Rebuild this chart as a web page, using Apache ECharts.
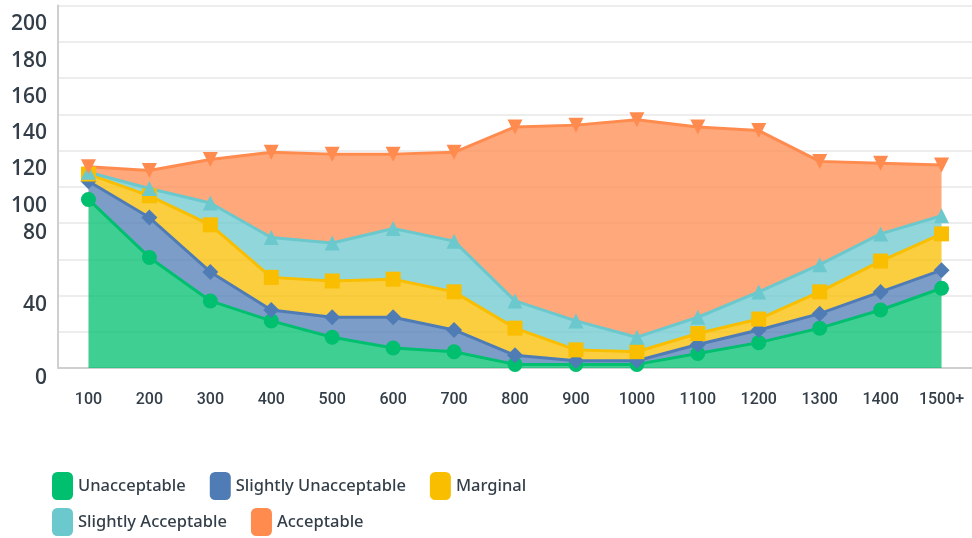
<!DOCTYPE html>
<html>
<head>
<meta charset="utf-8">
<title>Price acceptability</title>
<script src="https://cdn.jsdelivr.net/npm/echarts@6/dist/echarts.min.js"></script>
<style>
  html, body { margin: 0; padding: 0; background: #fff; }
  #main { width: 972px; height: 538px; }
</style>
</head>
<body>
<div id="main"></div>
<script>
var priceLevels = ['100', '200', '300', '400', '500', '600', '700', '800', '900', '1000', '1100', '1200', '1300', '1400', '1500+'];

// responses per price level, stacked bottom to top
var unacceptable         = [93, 61, 37, 26, 17, 11,  9,  2,   2,   2,   8, 14, 22, 32, 44];
var slightlyUnacceptable = [10, 22, 16,  6, 11, 17, 12,  5,   2,   2,   5,  7,  8, 10, 10];
var marginal             = [ 4, 12, 26, 18, 20, 21, 21, 15,   6,   5,   6,  6, 12, 17, 20];
var slightlyAcceptable   = [ 1,  4, 12, 22, 21, 28, 28, 15,  16,   8,   9, 15, 15, 15, 10];
var acceptable           = [ 3, 10, 24, 47, 49, 41, 49, 96, 108, 120, 105, 89, 57, 39, 28];

// y labels that are printed (60 and 20 are left out in the original)
var yLabels = [0, 40, 80, 100, 120, 140, 160, 180, 200];

var textColor = '#333e48';

var seriesDefs = [
  { name: 'Unacceptable', data: unacceptable, color: '#00bf6f', symbol: 'circle', rotate: 0 },
  { name: 'Slightly Unacceptable', data: slightlyUnacceptable, color: '#507cb6', symbol: 'diamond', rotate: 0 },
  { name: 'Marginal', data: marginal, color: '#f9be00', symbol: 'rect', rotate: 0 },
  { name: 'Slightly Acceptable', data: slightlyAcceptable, color: '#6bc8cd', symbol: 'triangle', rotate: 0 },
  { name: 'Acceptable', data: acceptable, color: '#ff8b4f', symbol: 'triangle', rotate: 180 }
];

var myChart = echarts.init(document.getElementById('main'));

var legendBase = {
  left: 52,
  padding: 0,
  orient: 'horizontal',
  icon: 'roundRect',
  itemWidth: 21,
  itemHeight: 28,
  itemGap: 24,
  textStyle: { color: textColor, fontFamily: 'Noto Sans', fontWeight: 500, fontSize: 16.5 }
};

var yRich = { color: textColor, fontFamily: 'Open Sans', fontWeight: 600, fontSize: 21 };

var option = {
  animation: false,
  color: seriesDefs.map(function (s) { return s.color; }),
  grid: { left: 58, right: -1, top: 5.5, bottom: 170 },
  legend: [
    Object.assign({}, legendBase, { top: 472, data: ['Unacceptable', 'Slightly Unacceptable', 'Marginal'] }),
    Object.assign({}, legendBase, { top: 508, data: ['Slightly Acceptable', 'Acceptable'] })
  ],
  xAxis: {
    type: 'category',
    data: priceLevels,
    boundaryGap: true,
    axisLine: { lineStyle: { color: '#cfcfcf', width: 2 } },
    axisTick: { show: false },
    axisLabel: {
      margin: 24,
      color: textColor,
      fontFamily: 'Roboto',
      fontWeight: 500,
      fontSize: 16
    }
  },
  yAxis: {
    type: 'value',
    min: 0,
    max: 200,
    interval: 20,
    axisLine: { show: true, lineStyle: { color: '#cfcfcf', width: 2 } },
    axisTick: { show: false },
    splitLine: { lineStyle: { color: '#ededed', width: 2 } },
    axisLabel: {
      margin: 11,
      color: textColor,
      fontFamily: 'Open Sans',
      fontWeight: 600,
      fontSize: 21,
      formatter: function (value) {
        if (yLabels.indexOf(value) < 0) return '';
        return value >= 100 ? '{hi|' + value + '}' : '{lo|' + value + '}';
      },
      rich: {
        hi: Object.assign({ padding: [38, 0, 0, 0] }, yRich),
        lo: Object.assign({ padding: [20, 0, 0, 0] }, yRich)
      }
    }
  },
  series: seriesDefs.map(function (s) {
    return {
      name: s.name,
      type: 'line',
      stack: 'total',
      data: s.data,
      symbol: s.symbol,
      symbolRotate: s.rotate,
      symbolSize: s.symbol === 'diamond' ? 16 : 15,
      showAllSymbol: true,
      lineStyle: { color: s.color, width: 3 },
      itemStyle: { color: s.color },
      areaStyle: { color: s.color, opacity: 0.75 },
      emphasis: { disabled: true }
    };
  })
};

myChart.setOption(option);
</script>
</body>
</html>
